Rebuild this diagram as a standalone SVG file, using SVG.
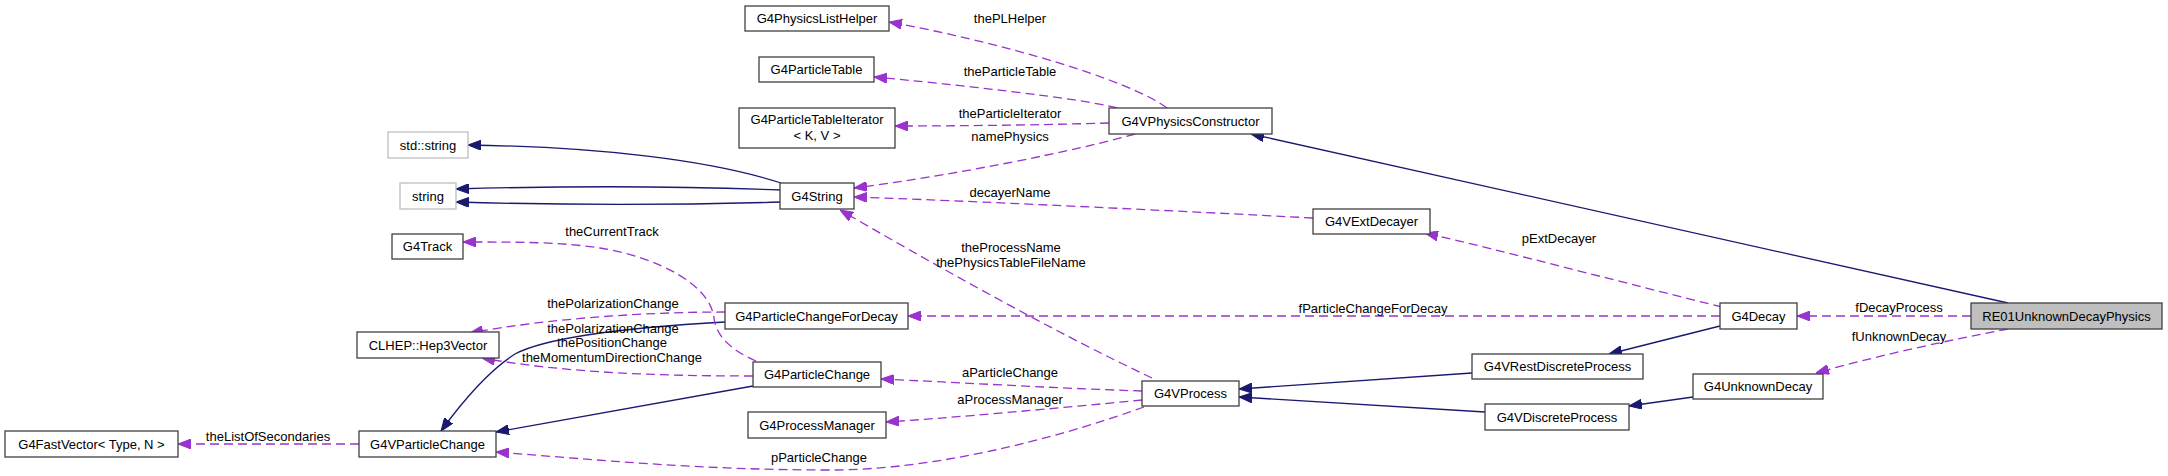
<svg xmlns="http://www.w3.org/2000/svg" width="2168" height="476" viewBox="0 0 2168 476">
<style>
.n rect{fill:#fff;stroke:#404040;stroke-width:1.3}
.n.ext rect{stroke:#bfbfbf}
.n.root rect{fill:#bfbfbf}
text{font-family:"Liberation Sans",Arial,sans-serif;font-size:13px;fill:#000}
.n text{text-anchor:middle}
.lbl text{text-anchor:middle}
.inh{fill:none;stroke:#191970;stroke-width:1.3}
.use{fill:none;stroke:#9a32cd;stroke-width:1.3;stroke-dasharray:9,5}
</style>
<defs>
<marker id="an" viewBox="0 0 13 10" markerWidth="13" markerHeight="10" refX="13" refY="5" orient="auto" markerUnits="userSpaceOnUse"><path d="M0,0 L13,5 L0,10 z" fill="#191970" stroke="#191970"/></marker>
<marker id="ap" viewBox="0 0 13 10" markerWidth="13" markerHeight="10" refX="13" refY="5" orient="auto" markerUnits="userSpaceOnUse"><path d="M0,0 L13,5 L0,10 z" fill="#9a32cd" stroke="#9a32cd"/></marker>
</defs>
<rect width="2168" height="476" fill="#fff"/>
<g id="connectors">
<path class="inh" marker-end="url(#an)" d="M2008,303 L1251,134"/>
<path class="inh" marker-end="url(#an)" d="M781,183 C710,160 600,147 468,145"/>
<path class="inh" marker-end="url(#an)" d="M781,190 C680,186 560,186 456,189"/>
<path class="inh" marker-end="url(#an)" d="M781,202 C680,205 560,205 456,202"/>
<path class="inh" marker-end="url(#an)" d="M725,322 C620,328 545,338 515,354 C490,370 465,398 441,431"/>
<path class="inh" marker-end="url(#an)" d="M753,386 L496,432"/>
<path class="inh" marker-end="url(#an)" d="M1472,373 L1239,389"/>
<path class="inh" marker-end="url(#an)" d="M1485,412 L1239,397"/>
<path class="inh" marker-end="url(#an)" d="M1720,326 L1609,354"/>
<path class="inh" marker-end="url(#an)" d="M1693,397 L1629,406"/>
<path class="use" marker-end="url(#ap)" d="M1167,108 C1130,80 1000,42 889,22"/>
<path class="use" marker-end="url(#ap)" d="M1117,108 C1080,98 950,84 874,77"/>
<path class="use" marker-end="url(#ap)" d="M1109,123 C1040,125 960,126 895,126"/>
<path class="use" marker-end="url(#ap)" d="M1135,134 C1080,150 950,176 854,188"/>
<path class="use" marker-end="url(#ap)" d="M1313,218 C1200,212 950,200 854,197"/>
<path class="use" marker-end="url(#ap)" d="M1152,378 C1050,330 930,262 840,210"/>
<path class="use" marker-end="url(#ap)" d="M1720,316 L908,316"/>
<path class="use" marker-end="url(#ap)" d="M1722,307 C1640,287 1500,250 1425,233"/>
<path class="use" marker-end="url(#ap)" d="M1971,316 L1797,316"/>
<path class="use" marker-end="url(#ap)" d="M2008,329 C1950,340 1880,355 1816,373"/>
<path class="use" marker-end="url(#ap)" d="M756,361 C730,350 716,335 714,318 C710,285 660,258 600,248 C560,242 520,242 463,242"/>
<path class="use" marker-end="url(#ap)" d="M725,312 C650,312 550,318 470,333"/>
<path class="use" marker-end="url(#ap)" d="M753,376 C650,376 560,372 482,358"/>
<path class="use" marker-end="url(#ap)" d="M359,444 L178,444"/>
<path class="use" marker-end="url(#ap)" d="M1144,407 C1080,430 950,470 830,470 C700,470 600,460 496,452"/>
<path class="use" marker-end="url(#ap)" d="M1142,391 C1050,388 950,382 881,379"/>
<path class="use" marker-end="url(#ap)" d="M1142,400 C1060,408 950,418 886,422"/>
<g class="lbl">
<text x="1010" y="23">thePLHelper</text>
<text x="1010" y="76">theParticleTable</text>
<text x="1010" y="118">theParticleIterator</text>
<text x="1010" y="141">namePhysics</text>
<text x="1010" y="197">decayerName</text>
<text x="612" y="236">theCurrentTrack</text>
<text x="1011" y="252">theProcessName</text>
<text x="1011" y="267">thePhysicsTableFileName</text>
<text x="1559" y="243">pExtDecayer</text>
<text x="613" y="308">thePolarizationChange</text>
<text x="613" y="333">thePolarizationChange</text>
<text x="612" y="347">thePositionChange</text>
<text x="612" y="362">theMomentumDirectionChange</text>
<text x="1373" y="313">fParticleChangeForDecay</text>
<text x="1899" y="312">fDecayProcess</text>
<text x="1899" y="341">fUnknownDecay</text>
<text x="1010" y="377">aParticleChange</text>
<text x="1010" y="404">aProcessManager</text>
<text x="268" y="441">theListOfSecondaries</text>
<text x="819" y="462">pParticleChange</text>
</g>
</g>
<g id="G4PhysicsListHelper" class="n"><rect x="745" y="6" width="144" height="25"/><text x="817" y="23">G4PhysicsListHelper</text></g>
<g id="G4ParticleTable" class="n"><rect x="759" y="57" width="115" height="25"/><text x="816.5" y="74">G4ParticleTable</text></g>
<g id="G4ParticleTableIterator" class="n"><rect x="739" y="108" width="156" height="40"/><text x="817" y="124">G4ParticleTableIterator</text><text x="817" y="140">&lt; K, V &gt;</text></g>
<g id="G4VPhysicsConstructor" class="n"><rect x="1109" y="108" width="163" height="26"/><text x="1190.5" y="125.5">G4VPhysicsConstructor</text></g>
<g id="std_string" class="n ext"><rect x="388" y="132" width="80" height="26"/><text x="428" y="149.5">std::string</text></g>
<g id="string" class="n ext"><rect x="400" y="183" width="56" height="26"/><text x="428" y="200.5">string</text></g>
<g id="G4String" class="n"><rect x="780" y="183" width="74" height="26"/><text x="817" y="200.5">G4String</text></g>
<g id="G4Track" class="n"><rect x="392" y="234" width="71" height="25"/><text x="427.5" y="251">G4Track</text></g>
<g id="G4VExtDecayer" class="n"><rect x="1313" y="209" width="117" height="25"/><text x="1371.5" y="226">G4VExtDecayer</text></g>
<g id="G4ParticleChangeForDecay" class="n"><rect x="725" y="303" width="183" height="26"/><text x="816.5" y="320.5">G4ParticleChangeForDecay</text></g>
<g id="CLHEP_Hep3Vector" class="n"><rect x="357" y="332" width="142" height="26"/><text x="428" y="349.5">CLHEP::Hep3Vector</text></g>
<g id="G4Decay" class="n"><rect x="1720" y="303" width="77" height="26"/><text x="1758.5" y="320.5">G4Decay</text></g>
<g id="RE01UnknownDecayPhysics" class="n root"><rect x="1971" y="303" width="191" height="26"/><text x="2066.5" y="320.5">RE01UnknownDecayPhysics</text></g>
<g id="G4ParticleChange" class="n"><rect x="753" y="362" width="128" height="25"/><text x="817" y="379">G4ParticleChange</text></g>
<g id="G4VRestDiscreteProcess" class="n"><rect x="1472" y="354" width="171" height="25"/><text x="1557.5" y="371">G4VRestDiscreteProcess</text></g>
<g id="G4UnknownDecay" class="n"><rect x="1693" y="374" width="130" height="25"/><text x="1758" y="391">G4UnknownDecay</text></g>
<g id="G4VProcess" class="n"><rect x="1142" y="381" width="97" height="25"/><text x="1190.5" y="398">G4VProcess</text></g>
<g id="G4ProcessManager" class="n"><rect x="748" y="412" width="138" height="26"/><text x="817" y="429.5">G4ProcessManager</text></g>
<g id="G4VDiscreteProcess" class="n"><rect x="1485" y="404" width="144" height="26"/><text x="1557" y="421.5">G4VDiscreteProcess</text></g>
<g id="G4FastVector" class="n"><rect x="5" y="431" width="173" height="26"/><text x="91.5" y="448.5">G4FastVector&lt; Type, N &gt;</text></g>
<g id="G4VParticleChange" class="n"><rect x="359" y="431" width="137" height="26"/><text x="427.5" y="448.5">G4VParticleChange</text></g>
</svg>
